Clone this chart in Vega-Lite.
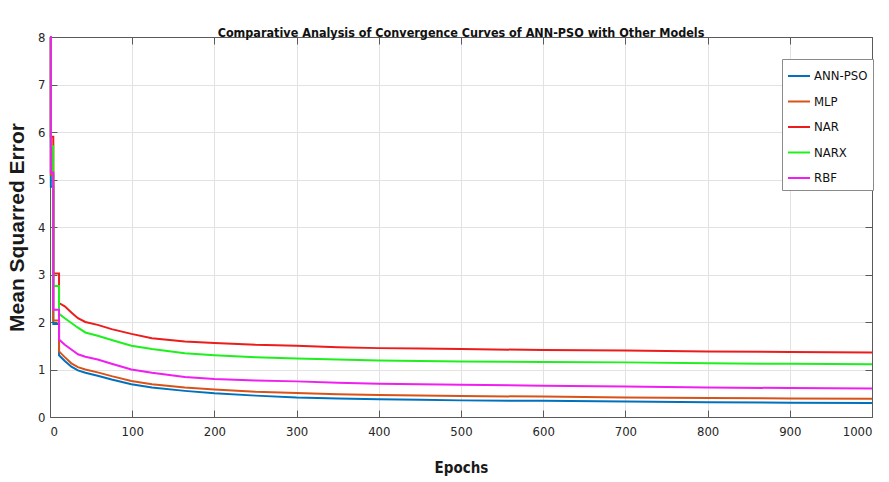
{
 "$schema": "https://vega.github.io/schema/vega-lite/v6.json",
 "autosize": {"type": "none"},
 "width": 822,
 "height": 380,
 "padding": {"left": 50, "top": 37, "right": 17, "bottom": 65},
 "background": "white",
 "config": {
  "view": {"stroke": null},
  "axis": {"labelFont": "Liberation Sans Narrow, DejaVu Sans Condensed, Liberation Sans, sans-serif", "labelFontSize": 13, "labelColor": "#262626", "domainColor": "#5a5a5a", "tickColor": "#5a5a5a", "gridColor": "#e2e2e2", "gridOpacity": 1, "titleColor": "#1a1a1a"}
 },
 "title": {"text": "Comparative Analysis of Convergence Curves of ANN-PSO with Other Models", "font": "Liberation Sans Narrow, DejaVu Sans Condensed, Liberation Sans, sans-serif", "fontWeight": "bold", "fontSize": 12.5, "color": "#111", "anchor": "middle", "baseline": "alphabetic", "offset": 7, "dy": 25},
 "data": {"values": [
  {"epoch":0,"model":"ANN-PSO","mse":8},{"epoch":1,"model":"ANN-PSO","mse":8},{"epoch":1,"model":"ANN-PSO","mse":4.85},{"epoch":4,"model":"ANN-PSO","mse":4.85},{"epoch":4,"model":"ANN-PSO","mse":1.96},{"epoch":11,"model":"ANN-PSO","mse":1.96},{"epoch":11,"model":"ANN-PSO","mse":1.3},{"epoch":18,"model":"ANN-PSO","mse":1.18},{"epoch":26,"model":"ANN-PSO","mse":1.06},{"epoch":34,"model":"ANN-PSO","mse":0.98},{"epoch":43,"model":"ANN-PSO","mse":0.93},{"epoch":58,"model":"ANN-PSO","mse":0.87},{"epoch":75,"model":"ANN-PSO","mse":0.79},{"epoch":99,"model":"ANN-PSO","mse":0.69},{"epoch":124,"model":"ANN-PSO","mse":0.62},{"epoch":164,"model":"ANN-PSO","mse":0.55},{"epoch":200,"model":"ANN-PSO","mse":0.5},{"epoch":250,"model":"ANN-PSO","mse":0.45},{"epoch":300,"model":"ANN-PSO","mse":0.41},{"epoch":350,"model":"ANN-PSO","mse":0.39},{"epoch":400,"model":"ANN-PSO","mse":0.375},{"epoch":450,"model":"ANN-PSO","mse":0.365},{"epoch":500,"model":"ANN-PSO","mse":0.35},{"epoch":600,"model":"ANN-PSO","mse":0.34},{"epoch":700,"model":"ANN-PSO","mse":0.325},{"epoch":800,"model":"ANN-PSO","mse":0.31},{"epoch":900,"model":"ANN-PSO","mse":0.3},{"epoch":1000,"model":"ANN-PSO","mse":0.295},
  {"epoch":0,"model":"MLP","mse":8},{"epoch":1,"model":"MLP","mse":8},{"epoch":1,"model":"MLP","mse":5.1},{"epoch":4,"model":"MLP","mse":5.1},{"epoch":4,"model":"MLP","mse":2.03},{"epoch":11,"model":"MLP","mse":2.03},{"epoch":11,"model":"MLP","mse":1.38},{"epoch":18,"model":"MLP","mse":1.26},{"epoch":26,"model":"MLP","mse":1.13},{"epoch":34,"model":"MLP","mse":1.05},{"epoch":43,"model":"MLP","mse":1.0},{"epoch":58,"model":"MLP","mse":0.94},{"epoch":75,"model":"MLP","mse":0.86},{"epoch":99,"model":"MLP","mse":0.76},{"epoch":124,"model":"MLP","mse":0.69},{"epoch":164,"model":"MLP","mse":0.62},{"epoch":200,"model":"MLP","mse":0.58},{"epoch":250,"model":"MLP","mse":0.53},{"epoch":300,"model":"MLP","mse":0.505},{"epoch":350,"model":"MLP","mse":0.48},{"epoch":400,"model":"MLP","mse":0.465},{"epoch":450,"model":"MLP","mse":0.455},{"epoch":500,"model":"MLP","mse":0.44},{"epoch":600,"model":"MLP","mse":0.43},{"epoch":700,"model":"MLP","mse":0.41},{"epoch":800,"model":"MLP","mse":0.4},{"epoch":900,"model":"MLP","mse":0.39},{"epoch":1000,"model":"MLP","mse":0.385},
  {"epoch":0,"model":"NAR","mse":8},{"epoch":1,"model":"NAR","mse":8},{"epoch":1,"model":"NAR","mse":5.9},{"epoch":4,"model":"NAR","mse":5.9},{"epoch":4,"model":"NAR","mse":3.02},{"epoch":11,"model":"NAR","mse":3.02},{"epoch":11,"model":"NAR","mse":2.4},{"epoch":18,"model":"NAR","mse":2.33},{"epoch":26,"model":"NAR","mse":2.2},{"epoch":34,"model":"NAR","mse":2.08},{"epoch":43,"model":"NAR","mse":2.0},{"epoch":58,"model":"NAR","mse":1.94},{"epoch":75,"model":"NAR","mse":1.85},{"epoch":99,"model":"NAR","mse":1.75},{"epoch":124,"model":"NAR","mse":1.66},{"epoch":164,"model":"NAR","mse":1.59},{"epoch":200,"model":"NAR","mse":1.56},{"epoch":250,"model":"NAR","mse":1.52},{"epoch":300,"model":"NAR","mse":1.5},{"epoch":350,"model":"NAR","mse":1.47},{"epoch":400,"model":"NAR","mse":1.45},{"epoch":450,"model":"NAR","mse":1.44},{"epoch":500,"model":"NAR","mse":1.43},{"epoch":600,"model":"NAR","mse":1.41},{"epoch":700,"model":"NAR","mse":1.4},{"epoch":800,"model":"NAR","mse":1.38},{"epoch":900,"model":"NAR","mse":1.37},{"epoch":1000,"model":"NAR","mse":1.36},
  {"epoch":0,"model":"NARX","mse":8},{"epoch":1,"model":"NARX","mse":8},{"epoch":1,"model":"NARX","mse":5.7},{"epoch":4,"model":"NARX","mse":5.7},{"epoch":4,"model":"NARX","mse":2.76},{"epoch":11,"model":"NARX","mse":2.76},{"epoch":11,"model":"NARX","mse":2.17},{"epoch":18,"model":"NARX","mse":2.08},{"epoch":26,"model":"NARX","mse":1.98},{"epoch":34,"model":"NARX","mse":1.88},{"epoch":43,"model":"NARX","mse":1.78},{"epoch":58,"model":"NARX","mse":1.71},{"epoch":75,"model":"NARX","mse":1.62},{"epoch":99,"model":"NARX","mse":1.5},{"epoch":124,"model":"NARX","mse":1.43},{"epoch":164,"model":"NARX","mse":1.34},{"epoch":200,"model":"NARX","mse":1.3},{"epoch":250,"model":"NARX","mse":1.26},{"epoch":300,"model":"NARX","mse":1.23},{"epoch":350,"model":"NARX","mse":1.21},{"epoch":400,"model":"NARX","mse":1.19},{"epoch":450,"model":"NARX","mse":1.18},{"epoch":500,"model":"NARX","mse":1.17},{"epoch":600,"model":"NARX","mse":1.16},{"epoch":700,"model":"NARX","mse":1.15},{"epoch":800,"model":"NARX","mse":1.13},{"epoch":900,"model":"NARX","mse":1.12},{"epoch":1000,"model":"NARX","mse":1.11},
  {"epoch":0,"model":"RBF","mse":8},{"epoch":1,"model":"RBF","mse":8},{"epoch":1,"model":"RBF","mse":5.15},{"epoch":4,"model":"RBF","mse":5.15},{"epoch":4,"model":"RBF","mse":2.26},{"epoch":11,"model":"RBF","mse":2.26},{"epoch":11,"model":"RBF","mse":1.63},{"epoch":18,"model":"RBF","mse":1.52},{"epoch":26,"model":"RBF","mse":1.42},{"epoch":34,"model":"RBF","mse":1.32},{"epoch":43,"model":"RBF","mse":1.27},{"epoch":58,"model":"RBF","mse":1.21},{"epoch":75,"model":"RBF","mse":1.12},{"epoch":99,"model":"RBF","mse":1.0},{"epoch":124,"model":"RBF","mse":0.93},{"epoch":164,"model":"RBF","mse":0.84},{"epoch":200,"model":"RBF","mse":0.8},{"epoch":250,"model":"RBF","mse":0.77},{"epoch":300,"model":"RBF","mse":0.75},{"epoch":350,"model":"RBF","mse":0.72},{"epoch":400,"model":"RBF","mse":0.7},{"epoch":450,"model":"RBF","mse":0.69},{"epoch":500,"model":"RBF","mse":0.68},{"epoch":600,"model":"RBF","mse":0.66},{"epoch":700,"model":"RBF","mse":0.64},{"epoch":800,"model":"RBF","mse":0.62},{"epoch":900,"model":"RBF","mse":0.61},{"epoch":1000,"model":"RBF","mse":0.6}
 ]},
 "layer": [
  {
   "mark": {"type": "line", "interpolate": "linear", "strokeWidth": 2},
   "encoding": {
    "x": {"field": "epoch", "type": "quantitative", "scale": {"domain": [0, 1000], "nice": false},
          "axis": {"orient": "bottom", "values": [0,100,200,300,400,500,600,700,800,900,1000], "format": "d", "grid": true, "tickSize": -7, "labelPadding": 15, "title": "Epochs", "titleFont": "Liberation Sans Narrow, DejaVu Sans Condensed, Liberation Sans, sans-serif", "titleFontSize": 15, "titleFontWeight": "bold", "titlePadding": 22}},
    "y": {"field": "mse", "type": "quantitative", "scale": {"domain": [0, 8], "nice": false},
          "axis": {"orient": "left", "values": [0,1,2,3,4,5,6,7,8], "grid": true, "tickSize": -7, "labelPadding": 12, "title": "Mean Squarred Error", "titleFont": "Liberation Sans, Arial, sans-serif", "titleFontSize": 21, "titleFontWeight": "bold", "titlePadding": 10}},
    "order": [{"field": "epoch", "sort": "ascending"}, {"field": "mse", "sort": "descending"}],
    "color": {"field": "model", "type": "nominal",
      "scale": {"domain": ["ANN-PSO", "MLP", "NAR", "NARX", "RBF"], "range": ["#0072BD", "#D95319", "#EC1C1C", "#1EF01E", "#F01EF0"]},
      "legend": {"orient": "none", "legendX": 732, "legendY": 22, "title": null, "symbolType": "stroke", "symbolSize": 484, "symbolStrokeWidth": 2, "labelFont": "Liberation Sans Narrow, DejaVu Sans Condensed, Liberation Sans, sans-serif", "labelFontSize": 13, "labelColor": "#111", "labelOffset": 3, "rowPadding": 6.5, "padding": 5, "strokeColor": "#8a8a8a", "fillColor": "white"}}
   }
  },
  {
   "mark": {"type": "point", "opacity": 0},
   "encoding": {
    "x": {"field": "epoch", "type": "quantitative", "axis": {"orient": "top", "values": [0,100,200,300,400,500,600,700,800,900,1000], "grid": false, "labels": false, "title": null, "tickSize": -7}},
    "y": {"field": "mse", "type": "quantitative", "axis": {"orient": "right", "values": [0,1,2,3,4,5,6,7,8], "grid": false, "labels": false, "title": null, "tickSize": -7}}
   }
  }
 ],
 "resolve": {"axis": {"x": "independent", "y": "independent"}}
}
